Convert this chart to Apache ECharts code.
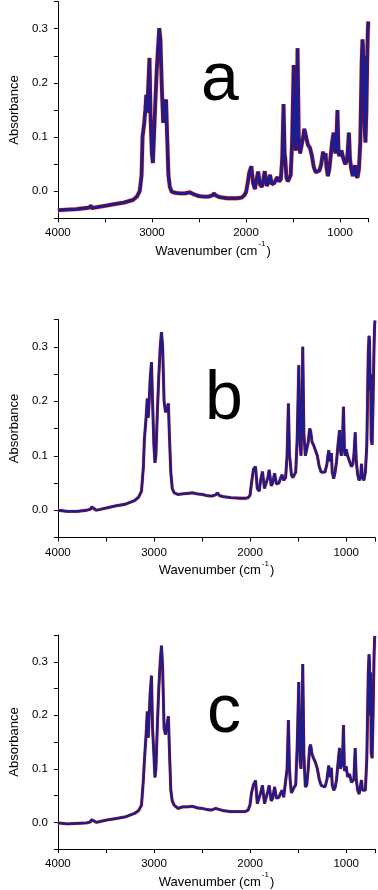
<!DOCTYPE html>
<html>
<head>
<meta charset="utf-8">
<script src="https://cdn.jsdelivr.net/npm/echarts@6/dist/echarts.min.js"></script>
<style>
html,body{margin:0;padding:0;background:#fff;}
#chart{width:378px;height:890px;}
</style>
</head>
<body>
<div id="chart"></div>
<script>
// Shared wavenumber axis (cm-1)
const wavenumber = [4000,3900,3800,3700,3660,3650,3640,3600,3500,3400,3300,3200,3160,3130,3110,3100,3082,3070,3060,3050,3040,3026,3015,3001,2990,2980,2965,2950,2935,2922,2910,2895,2880,2868,2850,2840,2825,2810,2790,2750,2700,2650,2600,2550,2500,2450,2400,2360,2340,2320,2280,2200,2100,2050,2020,2000,1985,1965,1943,1925,1905,1890,1871,1850,1830,1815,1801,1780,1765,1745,1725,1700,1680,1667,1650,1630,1615,1601,1590,1583,1570,1555,1540,1525,1510,1493,1480,1470,1462,1452,1440,1425,1410,1395,1380,1370,1355,1340,1320,1300,1280,1260,1240,1220,1200,1190,1181,1170,1160,1154,1145,1130,1115,1100,1085,1069,1060,1050,1040,1028,1018,1010,1000,985,965,945,930,920,906,895,880,865,850,841,830,815,800,785,770,762,757,750,745,740,730,720,710,704,700];

const absorbanceA = [-0.035,-0.034,-0.033,-0.031,-0.030,-0.026,-0.031,-0.030,-0.027,-0.024,-0.021,-0.016,-0.010,0.000,0.030,0.100,0.126,0.150,0.178,0.145,0.190,0.246,0.140,0.070,0.052,0.095,0.160,0.220,0.265,0.301,0.280,0.190,0.126,0.150,0.169,0.110,0.030,0.008,-0.001,-0.003,-0.004,-0.004,-0.002,-0.006,-0.009,-0.010,-0.010,-0.008,-0.004,-0.008,-0.011,-0.013,-0.013,-0.012,-0.008,-0.002,0.012,0.035,0.046,0.015,0.004,0.020,0.036,0.012,0.008,0.022,0.037,0.010,0.015,0.030,0.013,0.015,0.022,0.026,0.018,0.022,0.060,0.161,0.070,0.060,0.025,0.018,0.020,0.030,0.090,0.233,0.090,0.075,0.120,0.264,0.100,0.070,0.072,0.098,0.115,0.112,0.095,0.085,0.080,0.066,0.045,0.035,0.033,0.038,0.050,0.062,0.073,0.060,0.058,0.070,0.045,0.028,0.040,0.065,0.090,0.108,0.080,0.070,0.090,0.150,0.080,0.065,0.068,0.075,0.060,0.050,0.055,0.070,0.108,0.060,0.040,0.028,0.030,0.048,0.030,0.025,0.040,0.090,0.240,0.280,0.270,0.200,0.250,0.120,0.090,0.150,0.260,0.300,0.313];

const absorbanceB = [0.000,-0.002,-0.002,0.000,0.002,0.006,0.003,0.000,0.004,0.008,0.011,0.018,0.024,0.035,0.080,0.130,0.170,0.205,0.170,0.200,0.240,0.272,0.200,0.120,0.087,0.100,0.180,0.245,0.300,0.327,0.300,0.200,0.180,0.184,0.196,0.140,0.070,0.040,0.032,0.029,0.030,0.031,0.032,0.030,0.029,0.027,0.026,0.028,0.032,0.027,0.025,0.023,0.022,0.022,0.023,0.028,0.050,0.075,0.080,0.040,0.035,0.055,0.071,0.040,0.038,0.060,0.074,0.045,0.050,0.068,0.048,0.050,0.060,0.065,0.055,0.060,0.100,0.196,0.100,0.090,0.065,0.060,0.062,0.070,0.130,0.266,0.120,0.100,0.160,0.300,0.140,0.100,0.100,0.125,0.150,0.145,0.125,0.120,0.110,0.100,0.080,0.070,0.068,0.070,0.085,0.100,0.110,0.090,0.095,0.105,0.070,0.058,0.070,0.090,0.120,0.147,0.110,0.100,0.120,0.190,0.110,0.100,0.112,0.100,0.090,0.080,0.085,0.100,0.143,0.090,0.065,0.055,0.060,0.085,0.060,0.055,0.070,0.120,0.290,0.320,0.310,0.220,0.250,0.130,0.120,0.200,0.300,0.340,0.348];

const absorbanceC = [-0.001,-0.003,-0.002,-0.001,0.001,0.005,0.002,0.000,0.004,0.007,0.010,0.017,0.022,0.032,0.080,0.115,0.164,0.207,0.158,0.200,0.240,0.274,0.176,0.127,0.084,0.100,0.180,0.250,0.300,0.330,0.290,0.176,0.164,0.180,0.198,0.139,0.060,0.040,0.032,0.026,0.029,0.029,0.030,0.027,0.026,0.024,0.023,0.026,0.029,0.024,0.022,0.020,0.020,0.020,0.023,0.033,0.055,0.070,0.078,0.035,0.035,0.055,0.069,0.035,0.035,0.058,0.069,0.040,0.045,0.066,0.045,0.047,0.055,0.060,0.047,0.050,0.100,0.191,0.100,0.080,0.055,0.058,0.066,0.070,0.140,0.262,0.115,0.100,0.150,0.296,0.127,0.066,0.070,0.100,0.140,0.145,0.127,0.120,0.112,0.100,0.080,0.069,0.066,0.066,0.080,0.095,0.106,0.085,0.090,0.102,0.070,0.060,0.065,0.080,0.110,0.139,0.100,0.105,0.110,0.182,0.096,0.098,0.105,0.085,0.090,0.075,0.075,0.080,0.139,0.080,0.060,0.053,0.055,0.079,0.060,0.057,0.060,0.120,0.280,0.314,0.300,0.200,0.280,0.130,0.120,0.200,0.310,0.345,0.348];

const panelLetters = ['a','b','c'];
const yTickValues = [-0.05, 0.35, 0.05]; // min, max, interval
const xTickValues = [4000, 700, 500];    // start, end, interval

const FONT = 'Liberation Sans, Arial, sans-serif';
const grids = [
  {left:43.3, top:1.6, width:325, height:216.7},
  {left:45, top:319.5, width:330, height:218},
  {left:47.7, top:635, width:327.8, height:217.3}
];
const letterPos = [[220,81],[224,400],[224,713]];
const series3 = [absorbanceA, absorbanceB, absorbanceC];

function pairs(vals){ return wavenumber.map((w,i)=>[-w, vals[i]]); }

const xAxes = grids.map((g,i)=>({
  gridIndex:i, type:'value', min:-xTickValues[0], max:-xTickValues[1], interval:xTickValues[2],
  axisLine:{show:true,onZero:false,lineStyle:{color:'#000',width:1}},
  axisTick:{show:true,length:4,inside:false,lineStyle:{color:'#000',width:1}},
  axisLabel:{fontSize:11.5,color:'#000',fontFamily:FONT,margin:9,
    formatter:v=>(Math.abs(v)%1000===0?String(-v):'')},
  splitLine:{show:false},
  name:'{n|Wavenumber (cm}{sup|-1}{n|)}', nameLocation:'middle', nameGap:21,
  nameTextStyle:{fontSize:13,color:'#000',fontFamily:FONT,verticalAlign:'top',
    rich:{n:{fontSize:13,color:'#000',fontFamily:FONT,lineHeight:18,verticalAlign:'bottom'},
          sup:{fontSize:8,color:'#000',fontFamily:FONT,lineHeight:10,verticalAlign:'top',padding:[0,1,0,1]}}}
}));
const yAxes = grids.map((g,i)=>({
  gridIndex:i, type:'value', min:yTickValues[0], max:yTickValues[1], interval:yTickValues[2],
  axisLine:{show:true,onZero:false,lineStyle:{color:'#000',width:1}},
  axisTick:{show:true,length:4,inside:false,lineStyle:{color:'#000',width:1}},
  axisLabel:{fontSize:11.5,color:'#000',fontFamily:FONT,margin:10,
    formatter:v=>{const k=Math.round(v*100);return (k%10===0)?(k/100).toFixed(1):'';}},
  splitLine:{show:false},
  name:'Absorbance', nameLocation:'middle', nameGap:33,
  nameTextStyle:{fontSize:13,color:'#000',fontFamily:FONT}
}));

const series = [];
series3.forEach((vals,i)=>{
  const d = pairs(vals);
  const base = {type:'line',xAxisIndex:i,yAxisIndex:i,data:d,showSymbol:false,symbol:'none',silent:true,animation:false,smooth:false};
  series.push(Object.assign({},base,{lineStyle:{color:'#e9b0ac',width:i===0?5:3.8,opacity:0.6}}));
  series.push(Object.assign({},base,{lineStyle:{color:'#8b0a0a',width:i===0?3.8:2.8}}));
  series.push(Object.assign({},base,{lineStyle:{color:'#1c1c94',width:i===0?2.6:2.1}}));
});

const chart = echarts.init(document.getElementById('chart'),null,{renderer:'canvas'});
chart.setOption({
  animation:false,
  backgroundColor:'#fff',
  grid:grids.map(g=>Object.assign({containLabel:false},g)),
  xAxis:xAxes, yAxis:yAxes, series:series,
  graphic:panelLetters.map((t,i)=>({type:'text',x:letterPos[i][0],y:letterPos[i][1],
    style:{text:t,fontSize:68,fontFamily:FONT,fill:'#000',textAlign:'center',textVerticalAlign:'middle',verticalAlign:'middle'}}))
});
</script>
</body>
</html>
